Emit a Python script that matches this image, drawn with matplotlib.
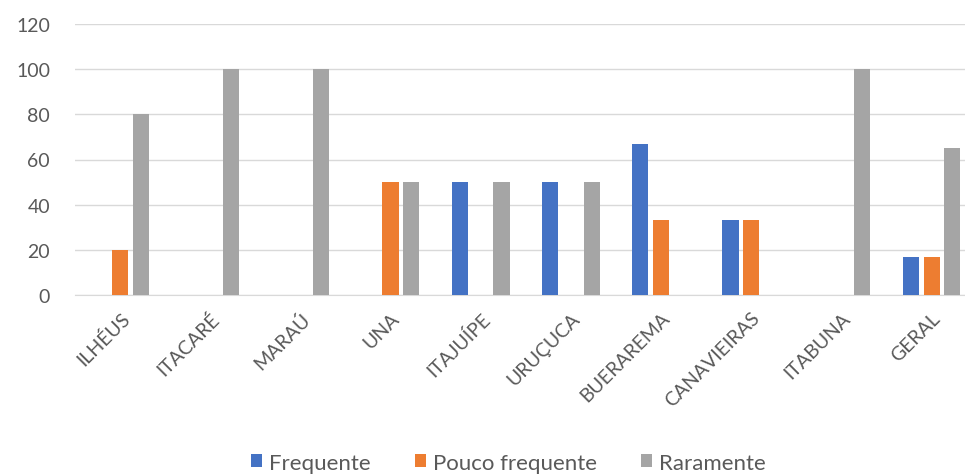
import numpy as np
import matplotlib.pyplot as plt

# Percentual de respostas por município
municipios = ["ILHÉUS", "ITACARÉ", "MARAÚ", "UNA", "ITAJUÍPE", "URUÇUCA",
              "BUERAREMA", "CANAVIEIRAS", "ITABUNA", "GERAL"]
frequente = [0, 0, 0, 0, 50, 50, 66.7, 33.3, 0, 16.7]
pouco_frequente = [20, 0, 0, 50, 0, 0, 33.3, 33.3, 0, 16.7]
raramente = [80, 100, 100, 50, 50, 50, 0, 0, 100, 65]

series = [("Frequente", frequente, "#4472C4"),
          ("Pouco frequente", pouco_frequente, "#ED7D31"),
          ("Raramente", raramente, "#A5A5A5")]

plt.rcParams['font.family'] = ['Lato', 'DejaVu Sans']

W, H = 965, 477
fig = plt.figure(figsize=(W / 100, H / 100), dpi=100)
ax = fig.add_axes([75 / W, (H - 296) / H, (W - 75) / W, (296 - 25) / H])

x = np.arange(len(municipios))
step = 0.23
width = 0.18
for i, (nome, vals, cor) in enumerate(series):
    ax.bar(x + (i - 1) * step, vals, width, color=cor, label=nome, zorder=3)

ax.set_ylim(0, 120)
ax.set_yticks(range(0, 121, 20))
ax.set_xlim(-0.5, 9.37)
ax.set_xticks(x)
ax.set_xticklabels(municipios, rotation=45, ha='right', va='top',
                   rotation_mode='anchor', fontsize=15.5)
ax.grid(axis='y', color='#D9D9D9', linewidth=1, zorder=0)
for s in ['top', 'right', 'left']:
    ax.spines[s].set_visible(False)
ax.spines['bottom'].set_color('#D9D9D9')
ax.tick_params(axis='both', length=0, colors='#595959', labelsize=14)
ax.tick_params(axis='x', pad=10)
ax.tick_params(axis='y', pad=18)

fig.legend(loc='lower center', bbox_to_anchor=(0.527, -0.035), ncol=3,
           frameon=False, fontsize=16, labelcolor='#595959',
           handlelength=0.5, handleheight=0.5, handletextpad=0.3,
           columnspacing=2.0)

fig.savefig("out.png", dpi=100)
